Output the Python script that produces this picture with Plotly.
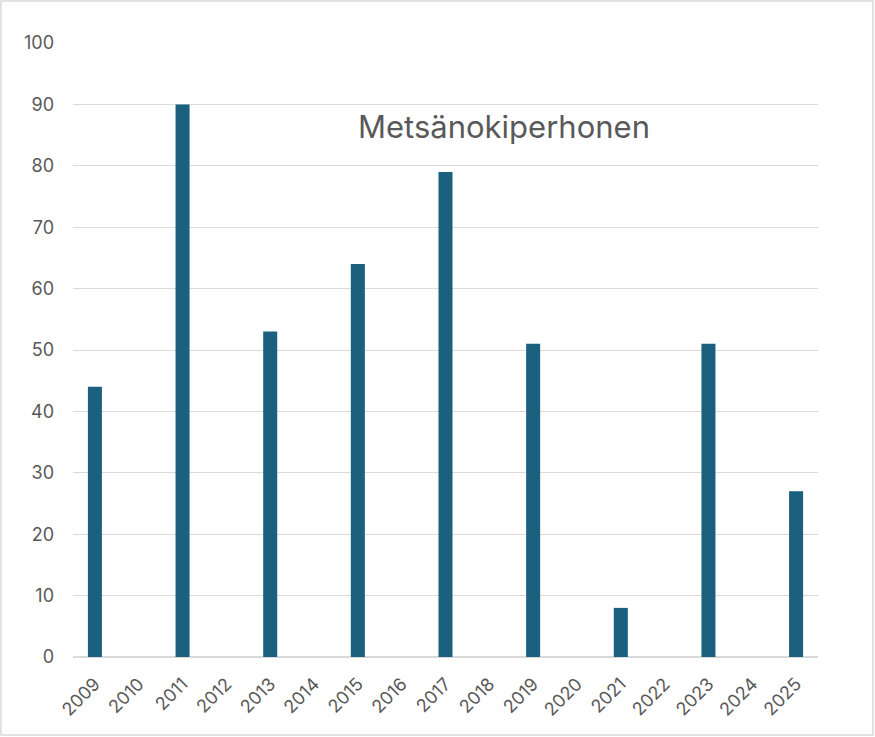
import plotly.graph_objects as go

years = [str(y) for y in range(2009, 2026)]
counts = [44, None, 90, None, 53, None, 64, None, 79, None, 51, None, 8, None, 51, None, 27]
y_ticks = [0, 10, 20, 30, 40, 50, 60, 70, 80, 90, 100]
title_text = "Metsänokiperhonen"

W, H = 875, 737
L, R, T, B = 73, 57, 43, 80
pw, ph = W - L - R, H - T - B

def px_to_paper_x(px):
    return (px - L) / pw

def px_to_paper_y(py):
    return (H - B - py) / ph

fig = go.Figure()
fig.add_trace(go.Bar(x=years, y=counts, marker=dict(color="#1b607f", line=dict(width=0)), width=0.32))

fig.update_layout(
    width=W, height=H,
    margin=dict(l=L, r=R, t=T, b=B),
    paper_bgcolor="white", plot_bgcolor="white",
    showlegend=False,
    font=dict(family="Inter, Open Sans, sans-serif", color="#595959", size=18),
    xaxis=dict(type="category", tickangle=-45, showgrid=False, showline=False, ticks="",
               ticklabelstandoff=12, tickfont=dict(size=18, color="#595959")),
    yaxis=dict(range=[0, 100], tickvals=y_ticks, showgrid=True, gridcolor="#d9d9d9", gridwidth=1,
               zeroline=True, zerolinecolor="#d9d9d9", zerolinewidth=1.5, showline=False, ticks="",
               ticklabelstandoff=18, tickfont=dict(size=18, color="#595959")),
    annotations=[dict(text=title_text, x=px_to_paper_x(504), y=px_to_paper_y(127), xref="paper", yref="paper",
                      showarrow=False, font=dict(size=31, color="#595959", family="Inter, Open Sans, sans-serif"),
                      xanchor="center", yanchor="middle")],
    shapes=[dict(type="rect", xref="paper", yref="paper",
                 x0=px_to_paper_x(1), x1=px_to_paper_x(W - 2),
                 y0=px_to_paper_y(H - 2), y1=px_to_paper_y(1),
                 line=dict(color="#d9d9d9", width=1.5), layer="below")],
)

fig.write_html("out.html")
